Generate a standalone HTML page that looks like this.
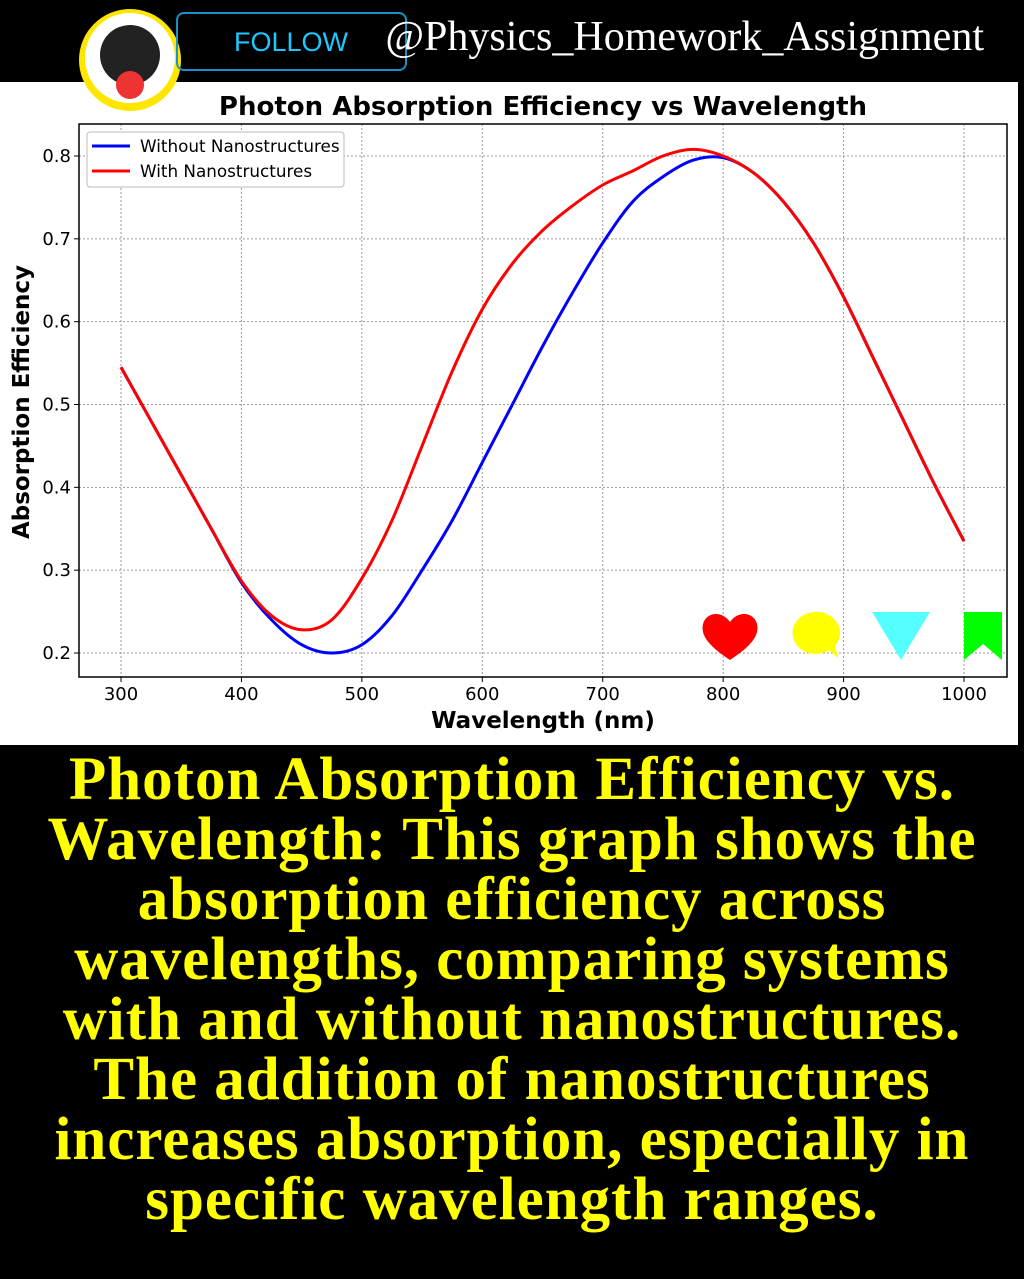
<!DOCTYPE html>
<html><head><meta charset="utf-8"><style>
body{margin:0;width:1024px;height:1279px;background:#000;overflow:hidden;position:relative;font-family:"DejaVu Sans",sans-serif}
#cap{position:absolute;left:0;top:750px;width:1024px;text-align:center;color:#ffff00;font-family:"Liberation Serif",serif;font-weight:bold;font-size:61px;letter-spacing:1px;line-height:60px}
</style></head><body>
<svg id="ch" width="1018" height="663" style="position:absolute;left:0;top:82px;background:#fff"></svg>
<svg width="1024" height="120" style="position:absolute;left:0;top:0">
<circle cx="130" cy="60" r="51" fill="#ffe600"/>
<circle cx="130" cy="58" r="45" fill="#fff"/>
<circle cx="130" cy="55" r="30" fill="#222"/>
<ellipse cx="130" cy="85" rx="14" ry="14" fill="#e33"/>
<rect x="177" y="13" width="229" height="57" rx="7" fill="none" stroke="#1e90c8" stroke-width="2"/>
<text x="291" y="51" fill="#1ec8ff" font-size="27" text-anchor="middle" font-family="Liberation Sans">FOLLOW</text>
<text x="984" y="50" fill="#fff" font-size="42" text-anchor="end" font-family="Liberation Serif">@Physics_Homework_Assignment</text>
</svg>
<div id="cap">Photon Absorption Efficiency vs.<br>Wavelength: This graph shows the<br>absorption efficiency across<br>wavelengths, comparing systems<br>with and without nanostructures.<br>The addition of nanostructures<br>increases absorption, especially in<br>specific wavelength ranges.</div>
<script>
const wavelengths=[300,325,350,375,400,425,450,475,500,525,550,575,600,625,650,675,700,725,750,775,800,825,850,875,900,925,950,975,1000];
const withoutNano=[.545,.48,.415,.35,.285,.24,.21,.2,.21,.245,.3,.36,.43,.5,.57,.635,.695,.745,.775,.795,.798,.78,.745,.695,.63,.555,.48,.405,.335];
const withNano=[.545,.48,.415,.35,.287,.245,.228,.24,.29,.36,.45,.54,.615,.67,.71,.74,.765,.782,.8,.808,.8,.78,.745,.695,.63,.555,.48,.405,.335];
const xTicks=[300,400,500,600,700,800,900,1000];
const yTicks=[0.2,0.3,0.4,0.5,0.6,0.7,0.8];
const NS='http://www.w3.org/2000/svg',svg=document.getElementById('ch');
const X=v=>121+(v-300)*843/700, Y=v=>74+(0.8-v)*497/0.6;
function el(t,a,p){const e=document.createElementNS(NS,t);for(const k in a)e.setAttribute(k,a[k]);(p||svg).appendChild(e);return e;}
const L=79,R=1007,T=42,B=595;
xTicks.forEach(t=>{const g=el('line',{x1:X(t),x2:X(t),y1:T,y2:B,stroke:'#999','stroke-dasharray':'2,2','stroke-width':1});

el('line',{x1:X(t),x2:X(t),y1:B,y2:B+5,stroke:'#000'});
const tx=el('text',{x:X(t),y:B+23,'font-size':18,'text-anchor':'middle'});tx.textContent=t;
});
yTicks.forEach(t=>{const g=el('line',{x1:L,x2:R,y1:Y(t),y2:Y(t),stroke:'#999','stroke-dasharray':'2,2','stroke-width':1});

el('line',{x1:L-5,x2:L,y1:Y(t),y2:Y(t),stroke:'#000'});
const tx=el('text',{x:L-8,y:Y(t)+6,'font-size':18,'text-anchor':'end'});tx.textContent=t.toFixed(1);
});
function path(ys,c,n){const p=wavelengths.map((w,i)=>[X(w),Y(ys[i])]);let d='M'+p[0];
for(let i=0;i<p.length-1;i++){const a=p[i-1]||p[i],b=p[i],c2=p[i+1],e=p[i+2]||c2;
d+=` C${b[0]+(c2[0]-a[0])/6},${b[1]+(c2[1]-a[1])/6} ${c2[0]-(e[0]-b[0])/6},${c2[1]-(e[1]-b[1])/6} ${c2[0]},${c2[1]}`;}
const s=el('path',{d,fill:'none',stroke:c,'stroke-width':3});}
path(withoutNano,'#0000ff','line-without-nanostructures');
path(withNano,'#ff0000','line-with-nanostructures');
const ax=el('rect',{x:L,y:T,width:R-L,height:B-T,fill:'none',stroke:'#000','stroke-width':1.5});

const ti=el('text',{x:543,y:33,'font-size':26,'font-weight':'bold','text-anchor':'middle'});ti.textContent='Photon Absorption Efficiency vs Wavelength';

const xl=el('text',{x:543,y:646,'font-size':23,'font-weight':'bold','text-anchor':'middle'});xl.textContent='Wavelength (nm)';

const yl=el('text',{x:0,y:0,'font-size':23,'font-weight':'bold','text-anchor':'middle',transform:'translate(29,320) rotate(-90)'});yl.textContent='Absorption Efficiency';

const lg=el('rect',{x:87,y:50,width:257,height:55,fill:'#fff',stroke:'#bbb',rx:3});

[['Without Nanostructures','#0000ff',65],['With Nanostructures','#ff0000',90]].forEach(([t,c,y])=>{
el('line',{x1:92,x2:130,y1:y-1,y2:y-1,stroke:c,'stroke-width':3});
const tx=el('text',{x:140,y:y+5,'font-size':16.8});tx.textContent=t;
});
const ic=[['M730,578 C712,566 700,555 703,542 C706,530 722,528 730,540 C738,528 754,530 757,542 C760,555 748,566 730,578Z','#ff0000','heart-icon'],
['M815,530 a23,21 0 1,0 14,38 l9,8 l-3,-12 a23,21 0 0,0 -20,-34Z','#ffff00','comment-icon'],
['M872,530 L930,530 L901,578Z','#55ffff','share-icon'],
['M964,530 L1002,530 L1002,578 L983,562 L964,578Z','#00ff00','bookmark-icon']];
ic.forEach(([d,c,n])=>{const p=el('path',{d,fill:c});});
</script>
</body></html>
